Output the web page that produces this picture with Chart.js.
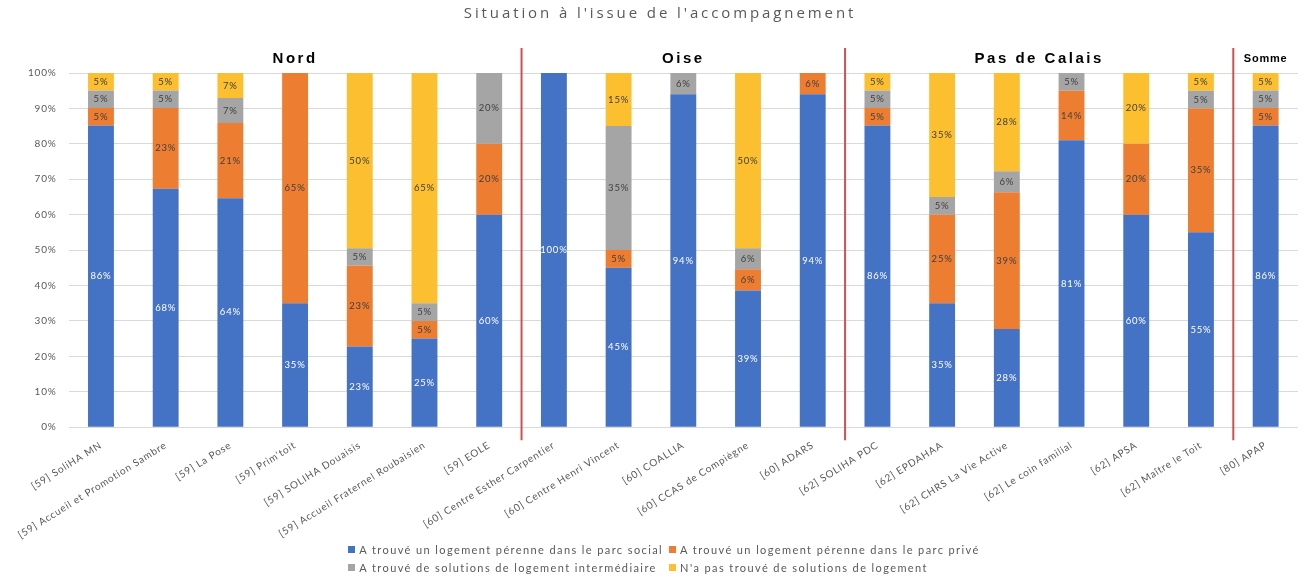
<!DOCTYPE html>
<html lang="fr">
<head>
    <meta charset="UTF-8">
    <title>Situation à l'issue de l'accompagnement</title>
    <script src="https://cdn.jsdelivr.net/npm/chart.js@4.4.0/dist/chart.umd.min.js"></script>
    <style>
        body {
            margin: 0;
            padding: 0;
            background: #ffffff;
            font-family: Lato, "Open Sans", sans-serif;
        }
        #wrap {
            position: relative;
            width: 1310px;
            height: 577px;
        }
        #legend {
            position: absolute;
            left: 0;
            top: 543px;
            width: 1310px;
            display: grid;
            grid-template-columns: auto auto;
            justify-content: center;
            column-gap: 6px;
            row-gap: 5px;
            font-size: 11px;
            letter-spacing: 1.4px;
            color: #595959;
            padding-left: 18px;
            box-sizing: border-box;
        }
        #legend .item {
            display: flex;
            align-items: center;
            white-space: nowrap;
        }
        #legend .box {
            width: 7px;
            height: 7px;
            margin-right: 4px;
        }
    </style>
</head>
<body>
<div id="wrap">
    <canvas id="situationChart" width="1310" height="577"></canvas>
    <div id="legend"></div>
</div>

<script>
    const chartTitle = "Situation à l'issue de l'accompagnement";

    const categories = [
        '[59] SoliHA MN',
        '[59] Accueil et Promotion Sambre',
        '[59] La Pose',
        "[59] Prim'toit",
        '[59] SOLIHA Douaisis',
        '[59] Accueil Fraternel Roubaisien',
        '[59] EOLE',
        '[60] Centre Esther Carpentier',
        '[60] Centre Henri Vincent',
        '[60] COALLIA',
        '[60] CCAS de Compiègne',
        '[60] ADARS',
        '[62] SOLIHA PDC',
        '[62] EPDAHAA',
        '[62] CHRS La Vie Active',
        '[62] Le coin familial',
        '[62] APSA',
        '[62] Maître le Toit',
        '[80] APAP'
    ];

    // % par structure (valeurs arrondies)
    const parcSocial    = [86, 68, 64, 35, 23, 25, 60, 100, 45, 94, 39, 94, 86, 35, 28, 81, 60, 55, 86];
    const parcPrive     = [5, 23, 21, 65, 23, 5, 20, 0, 5, 0, 6, 6, 5, 25, 39, 14, 20, 35, 5];
    const intermediaire = [5, 5, 7, 0, 5, 5, 20, 0, 35, 6, 6, 0, 5, 5, 6, 5, 0, 5, 5];
    const pasDeSolution = [5, 5, 7, 0, 50, 65, 0, 0, 15, 0, 50, 0, 5, 35, 28, 0, 20, 5, 5];

    const seriesNames = [
        'A trouvé un logement pérenne dans le parc social',
        'A trouvé un logement pérenne dans le parc privé',
        'A trouvé de solutions de logement intermédiaire',
        "N'a pas trouvé de solutions de logement"
    ];
    const seriesColors = ['#4472c4', '#ed7d31', '#a5a5a5', '#fcbf2f'];

    // départements : premier et dernier index de catégorie
    const regions = [
        { name: 'Nord', first: 0, last: 6 },
        { name: 'Oise', first: 7, last: 11 },
        { name: 'Pas de Calais', first: 12, last: 17 },
        { name: 'Somme', first: 18, last: 18 }
    ];

    const rawSeries = [parcSocial, parcPrive, intermediaire, pasDeSolution];

    // barres empilées à 100 %
    const totals = categories.map((c, i) => rawSeries.reduce((s, arr) => s + arr[i], 0));
    const datasets = rawSeries.map((arr, k) => ({
        label: seriesNames[k],
        data: arr.map((v, i) => v / totals[i] * 100),
        raw: arr,
        backgroundColor: seriesColors[k],
        borderWidth: 0,
        barPercentage: 0.4,
        categoryPercentage: 1
    }));

    // l'image d'origine est étirée en largeur : on espace un peu les lettres
    const spacingPlugin = {
        id: 'spacing',
        beforeUpdate(chart) { chart.ctx.letterSpacing = '0.8px'; },
        beforeDraw(chart) { chart.ctx.letterSpacing = '0.8px'; }
    };

    const decorPlugin = {
        id: 'decor',
        afterDatasetsDraw(chart) {
            const ctx = chart.ctx;
            const area = chart.chartArea;
            const x = chart.scales.x;

            // étiquettes de valeurs
            ctx.save();
            ctx.font = '9.5px Lato, "Open Sans", sans-serif';
            ctx.textAlign = 'center';
            ctx.textBaseline = 'middle';
            chart.data.datasets.forEach((ds, k) => {
                const meta = chart.getDatasetMeta(k);
                meta.data.forEach((bar, i) => {
                    const v = ds.raw[i];
                    if (!v) return;
                    ctx.fillStyle = k === 0 ? '#ffffff' : '#404040';
                    ctx.fillText(v + '%', bar.x, (bar.y + bar.base) / 2);
                });
            });

            // séparateurs rouges
            ctx.strokeStyle = '#d0504e';
            ctx.lineWidth = 2;
            for (let r = 1; r < regions.length; r++) {
                const px = (x.getPixelForValue(regions[r - 1].last) + x.getPixelForValue(regions[r].first)) / 2;
                ctx.beginPath();
                ctx.moveTo(px, area.top - 25);
                ctx.lineTo(px, area.bottom + 13);
                ctx.stroke();
            }

            // titres des départements
            ctx.fillStyle = '#000000';
            ctx.textBaseline = 'middle';
            regions.forEach(r => {
                const cx = (x.getPixelForValue(r.first) + x.getPixelForValue(r.last)) / 2;
                const small = r.first === r.last;
                ctx.letterSpacing = small ? '0.8px' : '2.5px';
                ctx.font = 'bold ' + (small ? 11 : 15) + 'px "Liberation Sans", Arial, sans-serif';
                ctx.fillText(r.name, cx, area.top - 14);
            });

            // titre du graphique
            ctx.fillStyle = '#595959';
            ctx.letterSpacing = '2.9px';
            ctx.font = '15px "Open Sans", Lato, sans-serif';
            ctx.fillText(chartTitle, chart.width / 2 + 5, 14);
            ctx.restore();
        }
    };

    const ctx = document.getElementById('situationChart').getContext('2d');
    new Chart(ctx, {
        type: 'bar',
        data: { labels: categories, datasets: datasets },
        options: {
            responsive: false,
            animation: false,
            layout: { padding: { left: 16, right: 12, top: 73, bottom: 32 } },
            plugins: {
                legend: { display: false },
                tooltip: { enabled: false },
                title: { display: false }
            },
            scales: {
                x: {
                    stacked: true,
                    grid: { display: false },
                    border: { display: false },
                    ticks: {
                        color: '#595959',
                        font: { family: 'Lato, "Open Sans", sans-serif', size: 10 },
                        minRotation: 32,
                        maxRotation: 32,
                        autoSkip: false,
                        padding: 4
                    }
                },
                y: {
                    stacked: true,
                    min: 0,
                    max: 100,
                    border: { display: false },
                    grid: { color: '#d9d9d9', drawTicks: false },
                    ticks: {
                        stepSize: 10,
                        color: '#595959',
                        font: { family: 'Lato, "Open Sans", sans-serif', size: 10 },
                        padding: 12,
                        callback: v => v + '%'
                    }
                }
            }
        },
        plugins: [spacingPlugin, decorPlugin]
    });

    // légende en deux colonnes, comme dans l'original
    const legend = document.getElementById('legend');
    seriesNames.forEach((name, k) => {
        const item = document.createElement('div');
        item.className = 'item';
        item.innerHTML = '<span class="box" style="background:' + seriesColors[k] + '"></span>' + name;
        legend.appendChild(item);
    });
</script>
</body>
</html>
